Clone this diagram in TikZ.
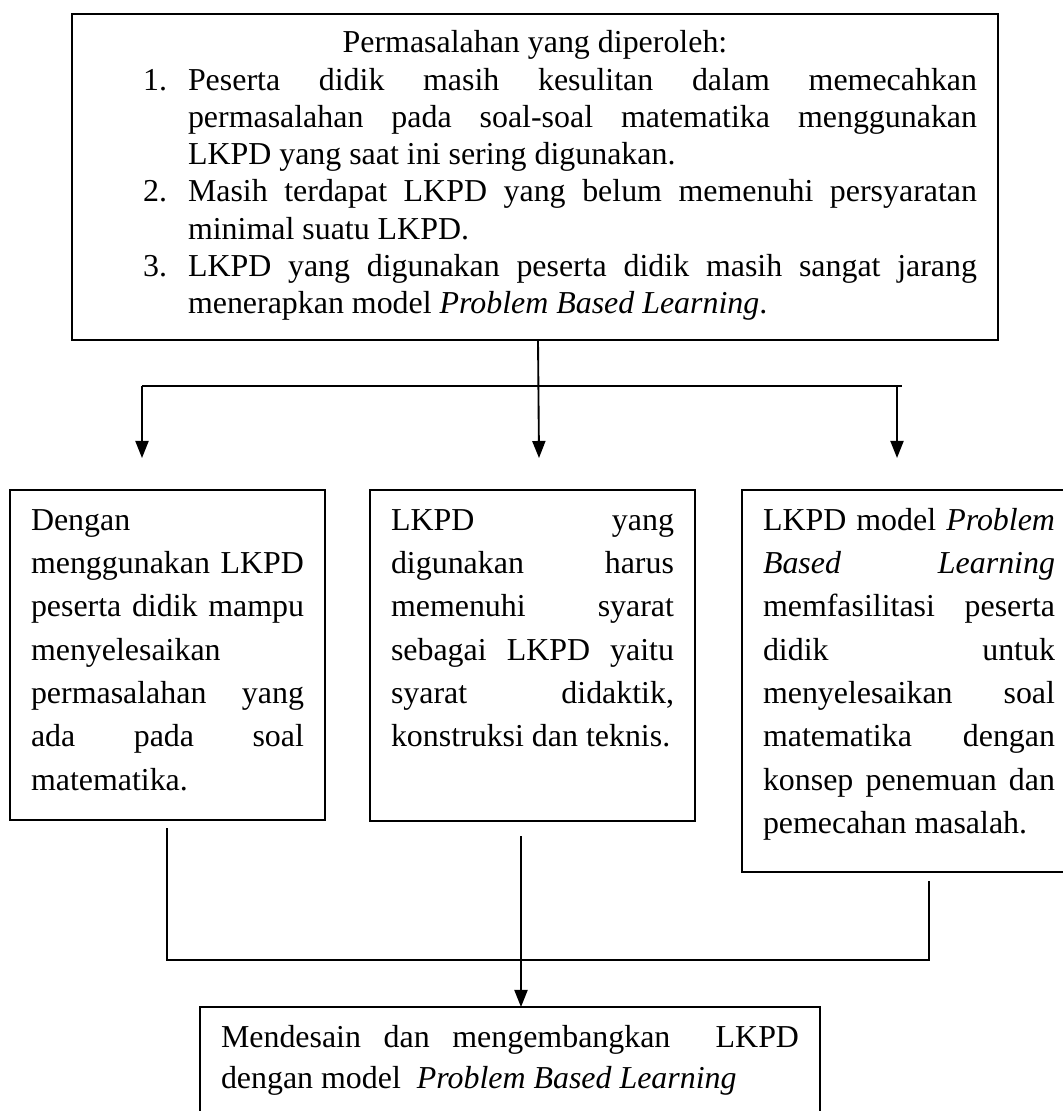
\documentclass[tikz,border=0pt]{standalone}
\usepackage{fontspec}
\setmainfont{Liberation Serif}
\usepackage{enumitem}
\usetikzlibrary{arrows.meta,calc}
\newlength{\pxu}
\setlength{\pxu}{0.376pt}

\begin{document}
\begin{tikzpicture}[x=\pxu,y=-\pxu,
        kotak/.style={draw,line width=0.7pt,inner xsep=21\pxu,inner ysep=18\pxu,outer sep=0pt,
            anchor=north west,align=justify,text height=22\pxu,font=\fontsize{12pt}{16.3pt}\selectfont},
        garis/.style={line width=0.7pt},
        panah/.style={garis,-{Triangle[width=4.9pt,length=6.4pt]}}]
    \useasboundingbox (0,0) rectangle (1062,1111);
    \tolerance=10000 \hbadness=10000 \hyphenpenalty=10000

    \node[kotak,text width=884\pxu,inner ysep=17\pxu,text depth=270\pxu,font=\fontsize{12pt}{14pt}\selectfont] (masalah) at (72,14) {%
        {\centering Permasalahan yang diperoleh:\par}
        \begin{enumerate}[leftmargin=95\pxu,labelwidth=24\pxu,labelsep=21\pxu,itemsep=0pt,topsep=0pt,parsep=0pt,partopsep=0pt]
            \item Peserta didik masih kesulitan dalam memecahkan\linebreak permasalahan pada soal-soal matematika menggunakan\linebreak LKPD yang saat ini sering digunakan.
            \item Masih terdapat LKPD yang belum memenuhi persyaratan\linebreak minimal suatu LKPD.
            \item LKPD yang digunakan peserta didik masih sangat jarang\linebreak menerapkan model \textit{Problem Based Learning}.
        \end{enumerate}};

    \node[kotak,text width=273\pxu,text depth=272\pxu] (solusi1) at (10,490) {Dengan\linebreak menggunakan LKPD\linebreak peserta didik mampu\linebreak menyelesaikan\linebreak permasalahan yang\linebreak ada pada soal\linebreak matematika.};
    \node[kotak,text width=283\pxu,text depth=273\pxu] (solusi2) at (370,490) {LKPD yang\linebreak digunakan harus\linebreak memenuhi syarat\linebreak sebagai LKPD yaitu\linebreak syarat didaktik,\linebreak konstruksi dan teknis.};
    \node[kotak,text width=292\pxu,text depth=324\pxu] (solusi3) at (742,490) {LKPD model \textit{Problem}\linebreak \textit{Based Learning}\linebreak memfasilitasi peserta\linebreak didik untuk\linebreak menyelesaikan soal\linebreak matematika dengan\linebreak konsep penemuan dan\linebreak pemecahan masalah.};

    \node[kotak,text width=578\pxu,text depth=70\pxu,font=\fontsize{12pt}{15.7pt}\selectfont] (desain) at (200,1007) {Mendesain dan mengembangkan\ \ LKPD\linebreak dengan model\ \ \textit{Problem Based Learning}};

    \coordinate (cabang) at (538,386);
    \coordinate (kiri) at (142,386);
    \coordinate (kanan) at (902,386);
    \coordinate (ujung1) at (142,458);
    \coordinate (ujung2) at (539,458);
    \coordinate (ujung3) at (897,458);
    \coordinate (gabung1) at (167,960);
    \coordinate (gabung3) at (929,960);
    \coordinate (temu) at (521,960);

    \draw[garis] (kiri) -- (kanan);
    \draw[panah] (masalah.south -| cabang) -- (ujung2);
    \draw[panah] (kiri) -- (ujung1);
    \draw[panah] (kanan -| ujung3) -- (ujung3);

    \draw[garis] ($(solusi1.south -| gabung1)+(0,8)$) -- (gabung1) -- (gabung3) -- ($(solusi3.south -| gabung3)+(0,9)$);
    \draw[panah] ($(solusi2.south -| temu)+(0,15)$) -- (desain.north -| temu);
\end{tikzpicture}
\end{document}
